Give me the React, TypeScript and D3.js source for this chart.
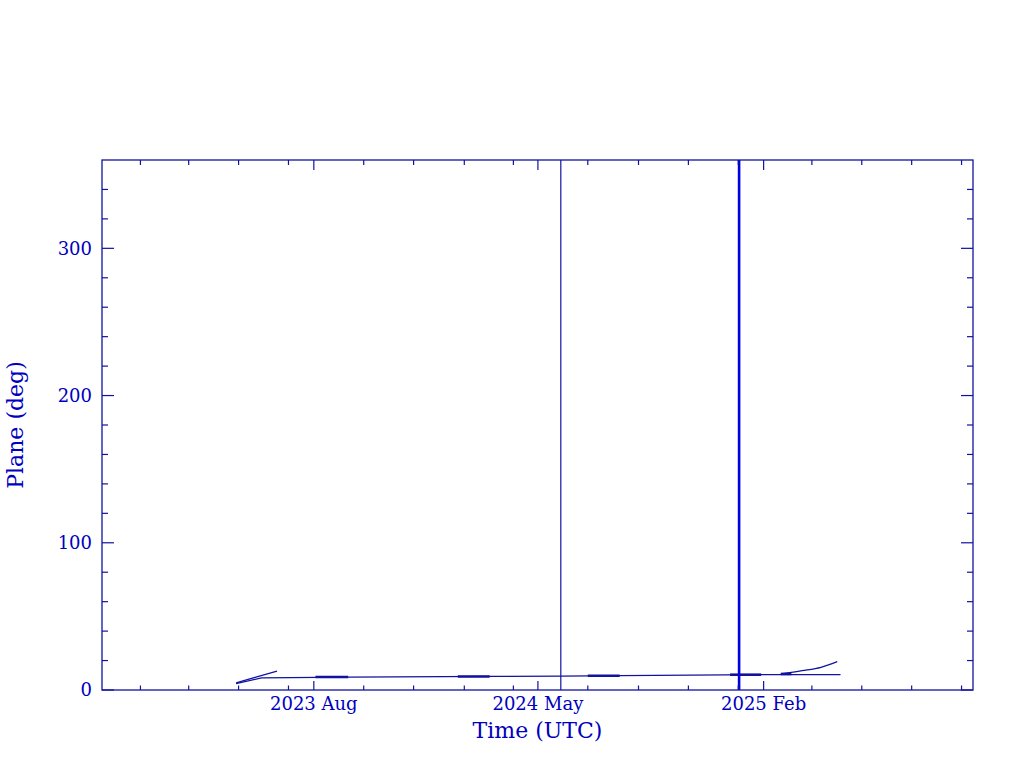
import React from "react";
import * as d3 from "d3";

// ---- data ----
const xDomain = ["2022-11-15", "2025-10-15"];
const yDomain = [0, 360];
const yMajorTicks = [0, 100, 200, 300];
const yMinorTicks = [20, 40, 60, 80, 120, 140, 160, 180, 220, 240, 260, 280, 320, 340];
const xMajorTicks = ["2023-08-01", "2024-05-01", "2025-02-01"];
const xMajorLabels = ["2023 Aug", "2024 May", "2025 Feb"];
const xMinorTicks = [
  "2023-01-01", "2023-03-01", "2023-05-01", "2023-07-01",
  "2023-10-01", "2023-12-01", "2024-02-01", "2024-04-01",
  "2024-07-01", "2024-09-01", "2024-11-01", "2025-01-01",
  "2025-04-01", "2025-06-01", "2025-08-01", "2025-10-01",
];

const mainTrackDates = ["2023-04-28", "2023-05-29", "2023-09-12", "2024-03-03", "2024-05-29", "2024-08-09", "2025-01-29", "2025-05-06"];
const mainTrackValues = [4.4, 8.2, 8.8, 9.2, 9.4, 9.7, 10.4, 10.5];

const earlyTrackDates = ["2023-04-28", "2023-05-20", "2023-06-17"];
const earlyTrackValues = [4.8, 8.4, 12.9];

const lateTrackDates = ["2025-02-22", "2025-03-20", "2025-04-12", "2025-05-02"];
const lateTrackValues = [10.9, 13.1, 15.4, 19.3];

const segStarts = ["2023-08-03", "2024-01-24", "2024-07-01", "2024-12-22", "2025-02-22"];
const segEnds = ["2023-09-12", "2024-03-03", "2024-08-09", "2025-01-29", "2025-03-07"];
const segValues = [8.8, 9.2, 9.7, 10.4, 10.9];

const wrapDates = ["2024-05-29", "2025-01-02"];
const wrapWidths = [1.2, 2.6];

// ---- layout ----
const W = 1024, H = 768;
const M = { left: 102, right: 973, top: 160, bottom: 690 };
const AXIS = "#1212a0";
const TEXT = "#0000c0";
const FONT = "'DejaVu Serif', serif";

export default function App() {
  const p = d3.utcParse("%Y-%m-%d");
  const x = d3.scaleUtc().domain(xDomain.map((d) => p(d)!)).range([M.left, M.right]);
  const y = d3.scaleLinear().domain(yDomain).range([M.bottom, M.top]);
  const line = d3
    .line<[Date, number]>()
    .x((d) => x(d[0]))
    .y((d) => y(d[1]));
  const smooth = d3
    .line<[Date, number]>()
    .x((d) => x(d[0]))
    .y((d) => y(d[1]))
    .curve(d3.curveMonotoneX);
  const toPts = (ds: string[], vs: number[]) => ds.map((d, i) => [p(d)!, vs[i]] as [Date, number]);

  return (
    <svg width={W} height={H} style={{ display: "block", position: "absolute", left: 0, top: 0 }}>
      <rect x={0} y={0} width={W} height={H} fill="#fff" />
      <defs>
        <clipPath id="plot">
          <rect x={M.left} y={M.top} width={M.right - M.left} height={M.bottom - M.top} />
        </clipPath>
      </defs>
      <g clipPath="url(#plot)" fill="none" stroke={AXIS} strokeWidth={1.3}>
        <path d={line(toPts(mainTrackDates, mainTrackValues)) || ""} />
        <path d={line(toPts(earlyTrackDates, earlyTrackValues)) || ""} />
        <path d={smooth(toPts(lateTrackDates, lateTrackValues)) || ""} />
        {segStarts.map((s, i) => (
          <path key={s} strokeWidth={2.6} d={line([[p(s)!, segValues[i]], [p(segEnds[i])!, segValues[i]]]) || ""} />
        ))}
        {wrapDates.map((d, i) => (
          <line
            key={d}
            x1={x(p(d)!)}
            x2={x(p(d)!)}
            y1={y(yDomain[0])}
            y2={y(yDomain[1])}
            strokeWidth={wrapWidths[i]}
            stroke={i === 1 ? "#0000e0" : AXIS}
          />
        ))}
      </g>
      {/* frame */}
      <rect x={M.left} y={M.top} width={M.right - M.left} height={M.bottom - M.top} fill="none" stroke={AXIS} strokeWidth={1.3} />
      <g stroke={AXIS} strokeWidth={1.2}>
        {yMajorTicks.map((v) => (
          <g key={"ym" + v}>
            <line x1={M.left} x2={M.left + 12} y1={y(v)} y2={y(v)} />
            <line x1={M.right} x2={M.right - 12} y1={y(v)} y2={y(v)} />
          </g>
        ))}
        {yMinorTicks.map((v) => (
          <g key={"yn" + v}>
            <line x1={M.left} x2={M.left + 6} y1={y(v)} y2={y(v)} />
            <line x1={M.right} x2={M.right - 6} y1={y(v)} y2={y(v)} />
          </g>
        ))}
        {xMajorTicks.map((d) => (
          <g key={"xm" + d}>
            <line x1={x(p(d)!)} x2={x(p(d)!)} y1={M.bottom} y2={M.bottom - 9} />
            <line x1={x(p(d)!)} x2={x(p(d)!)} y1={M.top} y2={M.top + 10} />
          </g>
        ))}
        {xMinorTicks.map((d) => (
          <g key={"xn" + d}>
            <line x1={x(p(d)!)} x2={x(p(d)!)} y1={M.bottom} y2={M.bottom - 4.5} />
            <line x1={x(p(d)!)} x2={x(p(d)!)} y1={M.top} y2={M.top + 5} />
          </g>
        ))}
      </g>
      <g fill={TEXT} fontFamily={FONT} fontSize={18}>
        {yMajorTicks.map((v) => (
          <text key={"yl" + v} x={M.left - 10} y={y(v)} dy="0.36em" textAnchor="end">
            {v}
          </text>
        ))}
        {xMajorTicks.map((d, i) => (
          <text key={"xl" + d} x={x(p(d)!)} y={M.bottom + 20} textAnchor="middle">
            {xMajorLabels[i]}
          </text>
        ))}
      </g>
      <text x={(M.left + M.right) / 2} y={738} textAnchor="middle" fill={TEXT} fontFamily={FONT} fontSize={22}>
        Time (UTC)
      </text>
      <text
        transform={`translate(23,${(M.top + M.bottom) / 2}) rotate(-90)`}
        textAnchor="middle"
        fill={TEXT}
        fontFamily={FONT}
        fontSize={22}
      >
        Plane (deg)
      </text>
    </svg>
  );
}
